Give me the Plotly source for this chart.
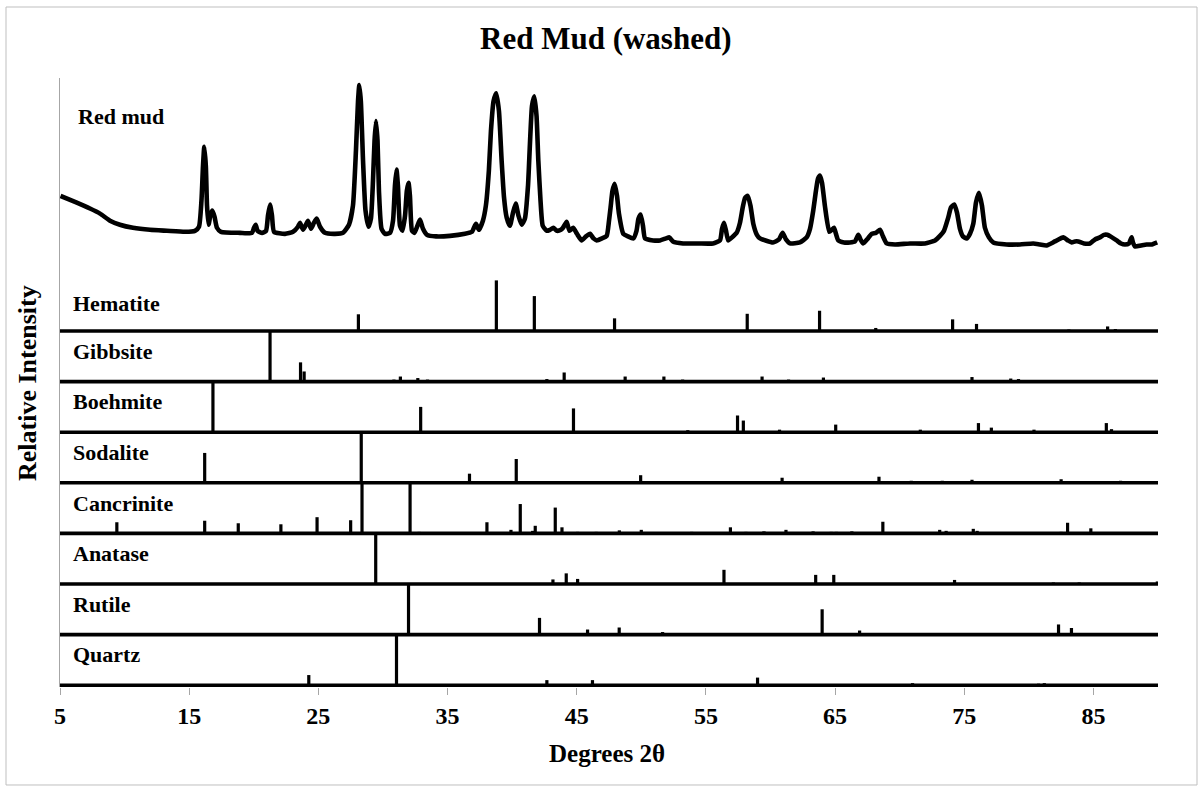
import plotly.graph_objects as go

# ---------------- data ----------------
# Red mud measured pattern (2-theta in degrees, relative intensity)
two_theta = [5.04, 6.16, 7.32, 8.10, 8.87, 9.64, 10.65, 11.97, 13.28, 14.68,
             15.45, 15.76, 15.95, 16.07, 16.17, 16.29, 16.38, 16.50, 16.65, 16.79,
             16.96, 17.15, 17.46, 18.93, 19.86, 20.02, 20.15, 20.29, 20.64, 20.95,
             21.10, 21.26, 21.41, 21.57, 22.42, 23.04, 23.42, 23.58, 23.81, 24.04,
             24.20, 24.43, 24.66, 24.87, 25.13, 25.51, 26.29, 26.91, 27.37, 27.68,
             27.91, 28.07, 28.17, 28.29, 28.46, 28.65, 28.88, 29.07, 29.23, 29.35,
             29.46, 29.58, 29.69, 29.89, 30.16, 30.55, 30.78, 30.93, 31.05, 31.16,
             31.32, 31.51, 31.71, 31.85, 31.98, 32.09, 32.25, 32.44, 32.67, 32.87,
             33.10, 33.41, 34.11, 35.19, 36.35, 36.89, 37.20, 37.43, 37.74, 37.97,
             38.20, 38.36, 38.56, 38.77, 38.98, 39.19, 39.37, 39.58, 39.83, 40.07,
             40.28, 40.49, 40.74, 40.99, 41.23, 41.38, 41.54, 41.72, 41.89, 42.03,
             42.20, 42.37, 42.68, 42.93, 43.19, 43.47, 43.78, 43.94, 44.22, 44.44,
             44.73, 45.02, 45.38, 45.72, 46.03, 46.30, 46.55, 46.96, 47.32, 47.50,
             47.63, 47.77, 47.94, 48.12, 48.27, 48.61, 48.97, 49.38, 49.63, 49.78,
             49.95, 50.13, 50.29, 50.91, 51.45, 51.91, 52.17, 52.45, 53.23, 54.39,
             55.55, 56.09, 56.25, 56.40, 56.56, 56.73, 57.02, 57.38, 57.64, 57.85,
             58.03, 58.24, 58.45, 58.67, 58.95, 59.19, 60.19, 60.66, 60.94, 61.20,
             61.51, 62.28, 62.80, 63.06, 63.31, 63.52, 63.68, 63.83, 63.99, 64.22,
             64.55, 64.76, 64.92, 65.07, 65.25, 65.69, 66.15, 66.54, 66.80, 67.01,
             67.18, 67.55, 67.83, 68.17, 68.48, 68.71, 69.00, 69.64, 70.80, 71.96,
             72.74, 73.12, 73.43, 73.76, 73.97, 74.23, 74.44, 74.67, 74.90, 75.19,
             75.44, 75.70, 75.91, 76.14, 76.37, 76.60, 76.91, 77.25, 78.28, 79.31,
             80.34, 80.86, 81.38, 82.02, 82.67, 83.03, 83.32, 83.57, 83.83, 84.27,
             84.73, 85.12, 85.51, 85.82, 86.07, 86.44, 86.80, 87.13, 87.44, 87.75,
             87.96, 88.06, 88.22, 88.68, 89.12, 89.53, 89.94]
red_mud = [167, 155, 142, 132, 118, 110, 104, 100, 98, 96,
           98, 106, 157, 226, 264, 226, 148, 110, 130, 138,
           126, 104, 96, 94, 94, 104, 110, 98, 94, 98,
           128, 150, 128, 96, 92, 96, 106, 114, 100, 110,
           118, 102, 114, 122, 106, 94, 92, 94, 110, 148,
           256, 354, 386, 354, 236, 138, 106, 122, 197, 276,
           315, 276, 177, 102, 92, 94, 118, 187, 219, 187,
           108, 98, 128, 177, 193, 167, 98, 94, 108, 120,
           102, 90, 87, 88, 92, 96, 112, 100, 118, 148,
           217, 295, 354, 370, 335, 236, 165, 124, 108, 134,
           152, 128, 110, 122, 187, 270, 345, 364, 325, 236,
           157, 108, 98, 100, 104, 98, 100, 104, 116, 98,
           104, 92, 79, 87, 92, 83, 79, 83, 88, 118,
           146, 177, 191, 167, 132, 92, 87, 83, 98, 122,
           130, 108, 83, 79, 79, 83, 85, 77, 73, 73,
           73, 79, 102, 114, 98, 79, 85, 94, 114, 144,
           163, 167, 148, 112, 90, 83, 75, 81, 94, 81,
           73, 75, 85, 102, 138, 177, 201, 207, 193, 146,
           96, 100, 104, 92, 79, 75, 75, 77, 90, 79,
           73, 83, 92, 94, 100, 87, 73, 71, 73, 73,
           79, 88, 98, 124, 144, 150, 134, 102, 87, 83,
           92, 112, 154, 173, 148, 104, 85, 75, 71, 71,
           73, 71, 69, 77, 85, 79, 75, 77, 77, 73,
           73, 81, 85, 90, 90, 85, 79, 73, 71, 73,
           85, 75, 67, 69, 71, 71, 75]

# Reference stick patterns (2-theta positions, relative intensity %)
hematite_pos = [28.10, 38.78, 41.72, 47.93, 58.20, 63.80, 68.15, 74.10, 75.95, 83.10, 86.10, 86.70]
hematite_int = [33, 100, 69, 25, 34, 40, 6, 23, 14, 3, 9, 4]

gibbsite_pos = [21.26, 23.62, 23.90, 30.85, 31.35, 32.70, 33.45, 42.69, 44.03, 45.91, 46.95,
                48.75, 51.75, 53.20, 55.60, 59.35, 61.40, 64.10, 65.30, 68.40, 75.60, 76.70,
                78.60, 79.20, 85.50]
gibbsite_int = [100, 38, 20, 4, 10, 7, 4, 5, 18, 3, 3,
                10, 10, 4, 3, 10, 4, 8, 2, 2, 9, 3,
                6, 5, 2]

boehmite_pos = [16.84, 32.92, 34.05, 44.75, 52.00, 53.60, 57.45, 57.90, 60.70, 65.05, 71.60,
                76.10, 77.10, 78.60, 79.60, 80.40, 81.50, 86.00, 86.40]
boehmite_int = [100, 50, 2, 47, 2, 4, 33, 23, 5, 15, 5,
                18, 9, 2, 2, 5, 2, 18, 6]

sodalite_pos = [11.40, 16.20, 22.95, 25.60, 28.32, 32.65, 34.69, 36.70, 40.32, 42.05, 43.68,
                46.90, 49.95, 55.60, 58.30, 60.90, 66.00, 68.40, 70.90, 73.30, 75.60, 80.20,
                82.50, 84.80, 87.10, 89.40]
sodalite_int = [2, 59, 3, 2, 100, 2, 2, 18, 47, 2, 3,
                2, 15, 2, 3, 10, 2, 12, 4, 4, 6, 2,
                7, 2, 4, 2]

cancrinite_pos = [9.40, 16.20, 18.80, 22.10, 24.90, 27.50, 28.38, 32.10, 32.80, 34.13, 38.05,
                  39.91, 40.63, 41.59, 41.79, 43.34, 43.86, 45.07, 46.51, 48.30, 50.00, 52.45,
                  53.90, 55.30, 56.90, 58.10, 59.50, 61.20, 63.30, 63.75, 64.70, 65.10, 66.30,
                  68.70, 72.00, 73.10, 73.60, 74.50, 75.70, 76.00, 78.05, 81.30, 82.50, 83.00,
                  84.80, 87.10, 87.90]
cancrinite_int = [22, 25, 20, 18, 32, 26, 100, 100, 3, 2, 22,
                  7, 58, 5, 15, 51, 12, 3, 3, 6, 7, 2,
                  3, 2, 12, 3, 4, 7, 4, 2, 3, 3, 4,
                  23, 2, 7, 5, 2, 9, 5, 2, 2, 3, 21,
                  10, 2, 2]

anatase_pos = [29.44, 43.16, 44.19, 45.07, 56.40, 63.50, 64.90, 73.70, 74.25, 81.90, 83.90, 89.95]
anatase_int = [100, 9, 21, 10, 28, 18, 18, 2, 8, 3, 3, 5]

rutile_pos = [31.98, 42.12, 45.84, 48.29, 51.65, 64.00, 66.90, 74.40, 76.10, 82.30, 83.30]
rutile_int = [100, 33, 10, 14, 5, 50, 8, 3, 3, 20, 13]

quartz_pos = [24.26, 31.05, 42.69, 46.22, 47.15, 49.70, 53.70, 59.00, 64.70, 71.00, 80.75, 81.20]
quartz_int = [20, 100, 10, 10, 2, 2, 2, 15, 2, 4, 3, 4]

phase_names = ["Hematite", "Gibbsite", "Boehmite", "Sodalite", "Cancrinite", "Anatase", "Rutile", "Quartz"]
phase_pos = [hematite_pos, gibbsite_pos, boehmite_pos, sodalite_pos,
             cancrinite_pos, anatase_pos, rutile_pos, quartz_pos]
phase_int = [hematite_int, gibbsite_int, boehmite_int, sodalite_int,
             cancrinite_int, anatase_int, rutile_int, quartz_int]

x_ticks = [5, 15, 25, 35, 45, 55, 65, 75, 85]

# ---------------- figure ----------------
BAND = 100          # height of one reference band
RED_OFFSET = 800    # vertical offset of the measured pattern
X_MIN, X_MAX = 5, 90
FONT = "Liberation Serif"

fig = go.Figure()

fig.add_trace(go.Scatter(
    x=two_theta, y=[RED_OFFSET + v for v in red_mud], mode="lines",
    line=dict(color="black", width=4.6, shape="spline", smoothing=0.5), hoverinfo="skip"))

n = len(phase_names)
annotations = []
for i, (name, pos, inten) in enumerate(zip(phase_names, phase_pos, phase_int)):
    base = (n - 1 - i) * BAND
    fig.add_trace(go.Scatter(
        x=[X_MIN, X_MAX], y=[base, base], mode="lines",
        line=dict(color="black", width=3.6), hoverinfo="skip"))
    xs, ys = [], []
    for p, h in zip(pos, inten):
        xs += [p, p, None]
        ys += [base, base + h * BAND / 100.0, None]
    fig.add_trace(go.Scatter(
        x=xs, y=ys, mode="lines",
        line=dict(color="black", width=3.2), hoverinfo="skip"))
    annotations.append(dict(
        x=5.85, y=base + (54 if i == 0 else 60), xref="x", yref="y",
        text=name, showarrow=False, xanchor="left", yanchor="middle",
        font=dict(family=FONT, size=22, color="black", weight="bold")))

annotations.append(dict(
    x=6.2, y=1123, xref="x", yref="y", text="Red mud", showarrow=False,
    xanchor="left", yanchor="middle",
    font=dict(family=FONT, size=22, color="black", weight="bold")))

annotations.append(dict(
    x=0.4964, y=1.0644, xref="paper", yref="paper", text="Red Mud (washed)",
    showarrow=False, xanchor="center", yanchor="middle",
    font=dict(family=FONT, size=31, color="black", weight="bold")))

annotations.append(dict(
    x=0.4982, y=-0.1089, xref="paper", yref="paper", text="Degrees 2θ",
    showarrow=False, xanchor="center", yanchor="middle",
    font=dict(family=FONT, size=25, color="black", weight="bold")))

annotations.append(dict(
    x=-0.0296, y=0.5, xref="paper", yref="paper", text="Relative Intensity",
    showarrow=False, xanchor="center", yanchor="middle", textangle=-90,
    font=dict(family=FONT, size=26, color="black", weight="bold")))

fig.update_layout(
    width=1203, height=790,
    margin=dict(l=60, r=45, t=78, b=103),
    paper_bgcolor="white", plot_bgcolor="white",
    showlegend=False,
    font=dict(family=FONT, color="black"),
    annotations=annotations,
    xaxis=dict(range=[X_MIN, X_MAX], tickvals=x_ticks, ticktext=[str(t) for t in x_ticks],
               showline=False, ticks="outside", ticklen=7, tickwidth=1, tickcolor="#a6a6a6",
               showgrid=False, zeroline=False,
               tickfont=dict(family=FONT, size=24, color="black", weight="bold")),
    yaxis=dict(range=[-3.6, 1200], showline=True, linecolor="#a6a6a6", linewidth=1,
               showticklabels=False, ticks="", showgrid=False, zeroline=False),
    shapes=[dict(type="rect", xref="paper", yref="paper",
                 x0=-0.04918, x1=1.03552, y0=-0.1609, y1=1.11658,
                 line=dict(color="#bfbfbf", width=1), fillcolor="rgba(0,0,0,0)", layer="below")],
)

fig.write_html("out.html", config={"displayModeBar": False},
               post_script="document.body.style.margin='0';")
